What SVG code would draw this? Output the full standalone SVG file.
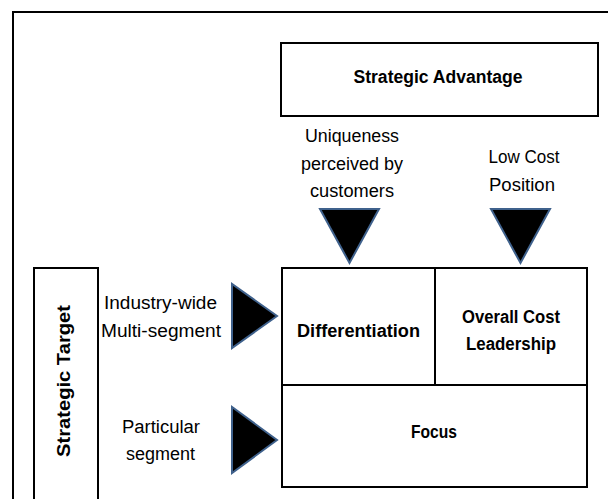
<svg xmlns="http://www.w3.org/2000/svg" width="608" height="499" viewBox="0 0 608 499">
<style>
.box{fill:#fff;stroke:#000;stroke-width:2}
.line{stroke:#000;stroke-width:2;fill:none}
.tri{fill:#000;stroke:#3f618c;stroke-width:2;stroke-linejoin:miter}
text{font-family:"Liberation Sans",Arial,sans-serif;fill:#000;text-anchor:middle}
.b{font-weight:bold}
.r{font-size:18px}
</style>
<rect x="0" y="0" width="608" height="499" fill="#fff"/>
<rect id="frame" x="13" y="12" width="700" height="600" fill="none" stroke="#000" stroke-width="2"/>
<g id="strategic-advantage">
<rect class="box" x="281" y="43" width="317" height="73"/>
<text class="b" x="438" y="83" font-size="18" textLength="169" lengthAdjust="spacingAndGlyphs">Strategic  Advantage</text>
</g>
<g id="strategic-target">
<rect class="box" x="34" y="268" width="64" height="260"/>
<text class="b" transform="translate(70,381) rotate(-90)" font-size="19" textLength="152" lengthAdjust="spacingAndGlyphs">Strategic  Target</text>
</g>
<g id="label-uniqueness">
<text class="r" x="352" y="142" textLength="94" lengthAdjust="spacingAndGlyphs">Uniqueness</text>
<text class="r" x="352" y="170" textLength="102" lengthAdjust="spacingAndGlyphs">perceived by</text>
<text class="r" x="352" y="197" textLength="84" lengthAdjust="spacingAndGlyphs">customers</text>
</g>
<g id="label-lowcost">
<text class="r" x="524" y="163" textLength="71" lengthAdjust="spacingAndGlyphs">Low Cost</text>
<text class="r" x="522" y="191" textLength="66" lengthAdjust="spacingAndGlyphs">Position</text>
</g>
<g id="label-industry">
<text class="r" x="160.5" y="309" textLength="113" lengthAdjust="spacingAndGlyphs">Industry-wide</text>
<text class="r" x="161" y="337" textLength="120" lengthAdjust="spacingAndGlyphs">Multi-segment</text>
</g>
<g id="label-particular">
<text class="r" x="161" y="433" textLength="78" lengthAdjust="spacingAndGlyphs">Particular</text>
<text class="r" x="160.5" y="460" textLength="69" lengthAdjust="spacingAndGlyphs">segment</text>
</g>
<g id="connectors">
<polygon class="tri" points="320,209 379,209 349.5,263"/>
<polygon class="tri" points="491,209 550,209 520.5,263"/>
<polygon class="tri" points="232,284 232,348 277,316"/>
<polygon class="tri" points="232,407 232,473 277,440"/>
</g>
<g id="matrix">
<rect class="box" x="282" y="268" width="305" height="219"/>
<line class="line" x1="282" y1="385" x2="587" y2="385"/>
<line class="line" x1="435" y1="268" x2="435" y2="385"/>
</g>
<g id="differentiation">
<text class="b" x="358.5" y="337" font-size="18" textLength="123" lengthAdjust="spacingAndGlyphs">Differentiation</text>
</g>
<g id="cost-leadership">
<text class="b" x="511" y="323" font-size="18" textLength="98" lengthAdjust="spacingAndGlyphs">Overall Cost</text>
<text class="b" x="511" y="350" font-size="18" textLength="90" lengthAdjust="spacingAndGlyphs">Leadership</text>
</g>
<g id="focus">
<text class="b" x="434" y="438" font-size="18" textLength="46" lengthAdjust="spacingAndGlyphs">Focus</text>
</g>
</svg>
